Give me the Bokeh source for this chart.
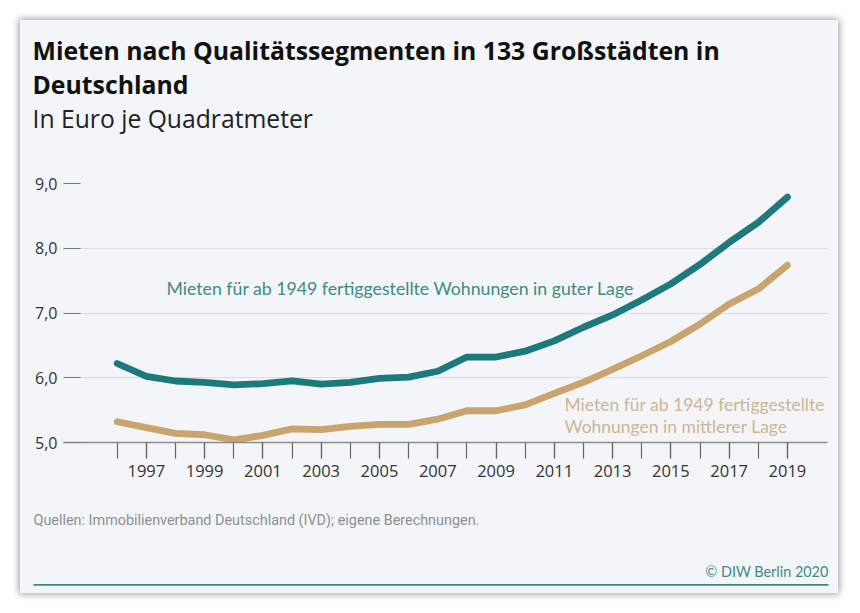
from bokeh.plotting import figure
from bokeh.layouts import column
from bokeh.models import Range1d, FixedTicker, Label
from bokeh.embed import file_html
from bokeh.resources import INLINE

# ---- data ----
years = list(range(1996, 2020))
good_location = [6.22, 6.02, 5.95, 5.93, 5.89, 5.91, 5.95, 5.90, 5.93, 5.99,
                 6.01, 6.10, 6.32, 6.32, 6.41, 6.57, 6.78, 6.97, 7.20, 7.45,
                 7.75, 8.09, 8.40, 8.79]
mid_location = [5.32, 5.23, 5.14, 5.12, 5.04, 5.11, 5.21, 5.20, 5.25, 5.28,
                5.28, 5.36, 5.49, 5.49, 5.58, 5.76, 5.93, 6.13, 6.34, 6.56,
                6.83, 7.14, 7.37, 7.74]
x_tick_years = list(range(1997, 2020, 2))
y_ticks = [5, 6, 7, 8, 9]
y_tick_labels = ["5,0", "6,0", "7,0", "8,0", "9,0"]

title_line1 = "Mieten nach Qualitätssegmenten in 133 Großstädten in"
title_line2 = "Deutschland"
subtitle = "In Euro je Quadratmeter"
label_good = "Mieten für ab 1949 fertiggestellte Wohnungen in guter Lage"
label_mid = ["Mieten für ab 1949 fertiggestellte", "Wohnungen in mittlerer Lage"]
source_text = "Quellen: Immobilienverband Deutschland (IVD); eigene Berechnungen."
credit_text = "© DIW Berlin 2020"

# ---- style ----
BG = "#f3f5f9"
TEAL = "#1c7a7c"
TAN = "#c9a46c"
TEAL_TXT = "#3f8a85"
TAN_TXT = "#cdb694"
FONT = "Open Sans"
LABEL_FONT = "Lato"
NARROW = "Roboto"
BASE_SHIFT = 0.41  # em, compensates Bokeh's baseline placement

W = 818
HEAD_H, CHART_H, FOOT_H = 140, 340, 93
LEFT, TOP = 20, 20  # card offset on the page


def no_align(f):
    if "frame_align" in f.properties():
        f.frame_align = False
    return f


def panel(h):
    f = figure(width=W, height=h, output_backend="svg", toolbar_location=None,
               x_range=Range1d(0, W), y_range=Range1d(h, 0),
               x_axis_type=None, y_axis_type=None,
               min_border=0, background_fill_color=BG, border_fill_color=BG,
               outline_line_color=None)
    f.xgrid.visible = False
    f.ygrid.visible = False
    return no_align(f)


def text(f, s, px, py, size, color, font=FONT, style="normal", align="left"):
    py = py - BASE_SHIFT * size
    f.add_layout(Label(x=px, y=py, text=s, text_font=font,
                       text_font_size=f"{size}px",
                       text_color=color, text_font_style=style,
                       text_align=align, text_baseline="alphabetic"))


# ---- header ----
head = panel(HEAD_H)
text(head, title_line1, 32 - LEFT, 59.5 - TOP, 24.8, "#111111", style="bold")
text(head, title_line2, 32 - LEFT, 93.5 - TOP, 24.8, "#111111", style="bold")
text(head, subtitle, 32 - LEFT, 128.5 - TOP, 24.7, "#222222")

# ---- chart ----
p = figure(width=W, height=CHART_H, output_backend="svg", toolbar_location=None,
           x_range=Range1d(1994.157, 2020.375), y_range=Range1d(5.0, 9.0),
           min_border_left=43, min_border_right=11, min_border_top=23,
           min_border_bottom=58,
           background_fill_color=BG, border_fill_color=BG,
           outline_line_color=None)
no_align(p)

p.yaxis.ticker = FixedTicker(ticks=y_ticks)
p.yaxis.major_label_overrides = {t: l for t, l in zip(y_ticks, y_tick_labels)}
p.yaxis.axis_line_color = None
p.yaxis.major_tick_in = 17
p.yaxis.major_tick_out = 0
p.yaxis.major_tick_line_color = "#777777"
p.yaxis.major_tick_line_width = 1.2
p.yaxis.minor_tick_line_color = None
p.yaxis.major_label_standoff = 6
p.yaxis.major_label_text_font = FONT
p.yaxis.major_label_text_font_size = "16px"
p.yaxis.major_label_text_color = "#333333"

p.xaxis.ticker = FixedTicker(ticks=x_tick_years, minor_ticks=years)
p.xaxis.axis_line_color = "#8c8c8c"
p.xaxis.axis_line_width = 1.5
p.xaxis.major_tick_in = 0
p.xaxis.major_tick_out = 16
p.xaxis.minor_tick_in = 0
p.xaxis.minor_tick_out = 16
p.xaxis.major_tick_line_color = "#666666"
p.xaxis.minor_tick_line_color = "#666666"
p.xaxis.major_tick_line_width = 1.2
p.xaxis.minor_tick_line_width = 1.2
p.xaxis.major_label_standoff = 6
p.xaxis.major_label_text_font = FONT
p.xaxis.major_label_text_font_size = "16.5px"
p.xaxis.major_label_text_color = "#333333"

p.xgrid.grid_line_color = None
p.ygrid.grid_line_color = "#d9dce2"
p.ygrid.grid_line_width = 1.2

p.line(years, good_location, line_color=TEAL, line_width=6.8,
       line_cap="round", line_join="round")
p.line(years, mid_location, line_color=TAN, line_width=6.8,
       line_cap="round", line_join="round")

# series labels (screen units relative to the plot frame's bottom-left)
FX, FY = 63.0, 442.0


def flabel(s, px, py, size, color):
    py = py - BASE_SHIFT * size
    p.add_layout(Label(x=px - FX, y=FY - py, x_units="screen", y_units="screen",
                       text=s, text_font=LABEL_FONT, text_font_size=f"{size}px",
                       text_color=color, text_baseline="alphabetic"))


flabel(label_good, 166, 295, 17.7, TEAL_TXT)
flabel(label_mid[0], 564, 410.7, 17.5, TAN_TXT)
flabel(label_mid[1], 564, 433.3, 17.5, TAN_TXT)

# ---- footer ----
FOOT_TOP = TOP + HEAD_H + CHART_H
foot = panel(FOOT_H)
text(foot, source_text, 33 - LEFT, 525.7 - FOOT_TOP, 14.4, "#8c9096", font=NARROW)
text(foot, credit_text, 828 - LEFT, 576.7 - FOOT_TOP, 14.4, TEAL_TXT,
     font=LABEL_FONT, align="right")
foot.line([33 - LEFT, 828 - LEFT], [584.4 - FOOT_TOP, 584.4 - FOOT_TOP],
          line_color="#3f8a85", line_width=1.6)

layout = column(head, p, foot, spacing=0, margin=(TOP, 22, 20, LEFT),
                styles={"box-shadow": "0 0 7px 1px rgba(0,0,0,0.40)",
                        "background-color": BG})

open("out.html", "w").write(file_html(layout, INLINE))
